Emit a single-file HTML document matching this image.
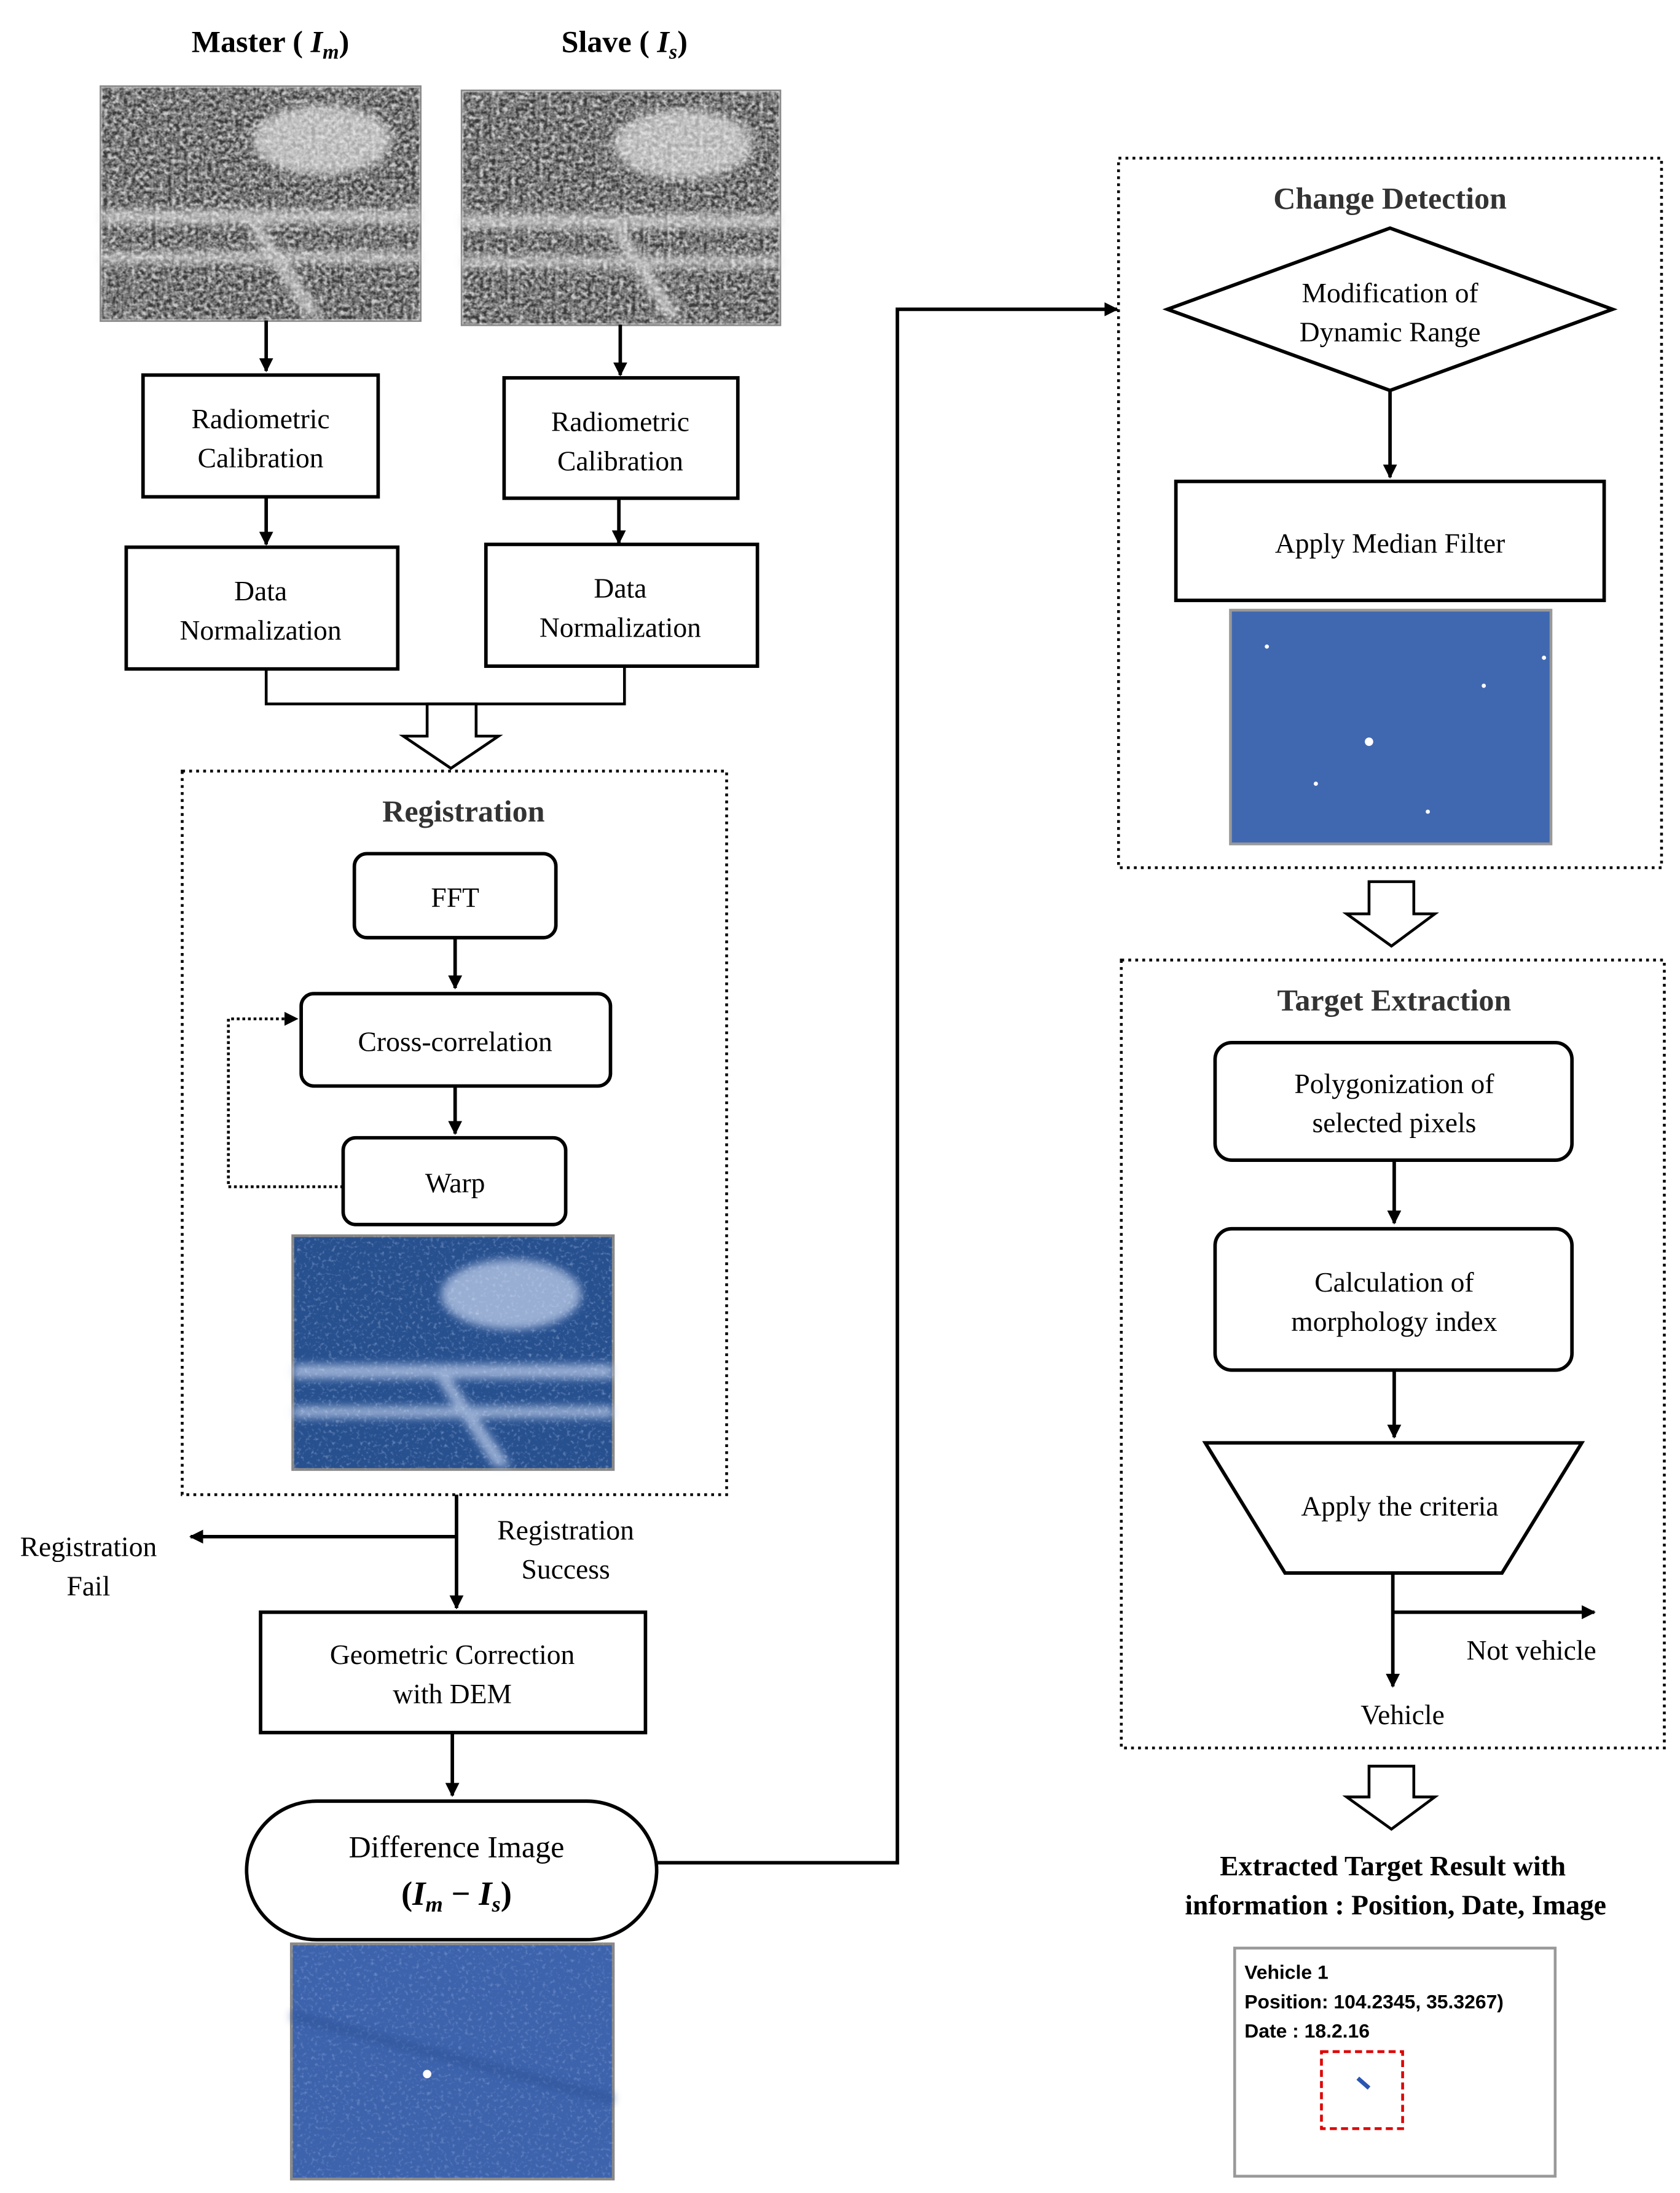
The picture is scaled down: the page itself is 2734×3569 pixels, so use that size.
<!DOCTYPE html>
<html><head><meta charset="utf-8">
<style>html,body{margin:0;padding:0;background:#fff}svg{display:block}</style>
</head><body>
<svg xmlns="http://www.w3.org/2000/svg" width="2734" height="3569" viewBox="0 0 1200 1567" font-family="'Liberation Serif', serif" font-size="20" fill="#000">
<defs>
<filter id="gray" x="0" y="0" width="100%" height="100%">
<feTurbulence type="fractalNoise" baseFrequency="0.35" numOctaves="2" seed="3"/>
<feColorMatrix type="matrix" values="0 0 0 0 0.85  0 0 0 0 0.85  0 0 0 0 0.85  1.4 1.4 0 0 -0.95"/>
<feComposite in2="SourceGraphic" operator="in"/>
</filter>
<filter id="blue" x="0" y="0" width="100%" height="100%">
<feTurbulence type="fractalNoise" baseFrequency="0.4" numOctaves="2" seed="7"/>
<feColorMatrix type="matrix" values="0 0 0 0 0.75  0 0 0 0 0.82  0 0 0 0 1  1.3 0 0 0 -0.7"/>
<feComposite in2="SourceGraphic" operator="in"/>
</filter>
<filter id="blur"><feGaussianBlur stdDeviation="3"/></filter>
<marker id="ah" markerWidth="10" markerHeight="10" refX="9" refY="5" orient="auto" markerUnits="userSpaceOnUse">
<path d="M0,0 L10,5 L0,10 z" fill="#000"/></marker>
</defs>

<text x="193" y="37" text-anchor="middle" font-weight="bold" font-size="22">Master ( <tspan font-style="italic">I</tspan><tspan font-style="italic" font-size="15" dy="5">m</tspan><tspan dy="-5">)</tspan></text>
<text x="446" y="37" text-anchor="middle" font-weight="bold" font-size="22">Slave ( <tspan font-style="italic">I</tspan><tspan font-style="italic" font-size="15" dy="5">s</tspan><tspan dy="-5">)</tspan></text>

<!-- Master/Slave images -->
<g>
<rect x="72" y="62" width="228" height="167" fill="#3a3a3a" stroke="#888" stroke-width="2"/>
<g filter="url(#blur)" fill="#d8d8d8" opacity="0.7">
<ellipse cx="230" cy="100" rx="50" ry="25"/>
<rect x="72" y="150" width="228" height="10"/>
<rect x="72" y="180" width="228" height="8"/>
<polygon points="170,150 180,150 230,225 218,225"/>
</g>
<rect x="72" y="62" width="228" height="167" fill="#3a3a3a" filter="url(#gray)" opacity="0.8"/>
</g>
<g>
<rect x="330" y="65" width="227" height="167" fill="#3a3a3a" stroke="#888" stroke-width="2"/>
<g filter="url(#blur)" fill="#d8d8d8" opacity="0.7">
<ellipse cx="488" cy="103" rx="50" ry="25"/>
<rect x="330" y="153" width="227" height="10"/>
<rect x="330" y="183" width="227" height="8"/>
<polygon points="428,153 438,153 488,228 476,228"/>
</g>
<rect x="330" y="65" width="227" height="167" fill="#3a3a3a" filter="url(#gray)" opacity="0.8"/>
</g>

<g stroke="#000" stroke-width="2.5" fill="none">
<line x1="190" y1="229" x2="190" y2="265" marker-end="url(#ah)"/>
<line x1="443" y1="232" x2="443" y2="268" marker-end="url(#ah)"/>
<rect x="102" y="268" width="168" height="87"/>
<rect x="360" y="270" width="167" height="86"/>
<line x1="190" y1="355" x2="190" y2="389" marker-end="url(#ah)"/>
<line x1="442" y1="356" x2="442" y2="388" marker-end="url(#ah)"/>
<rect x="90" y="391" width="194" height="87"/>
<rect x="347" y="389" width="194" height="87"/>
<polyline points="190,478 190,503 446,503 446,476" stroke-width="2"/>
<path d="M305,503 L340,503 L340,526 L356,526 L322,549 L288,526 L305,526 z" stroke-width="2"/>
</g>
<text x="186" y="306" text-anchor="middle">Radiometric</text>
<text x="186" y="334" text-anchor="middle">Calibration</text>
<text x="443" y="308" text-anchor="middle">Radiometric</text>
<text x="443" y="336" text-anchor="middle">Calibration</text>
<text x="186" y="429" text-anchor="middle">Data</text>
<text x="186" y="457" text-anchor="middle">Normalization</text>
<text x="443" y="427" text-anchor="middle">Data</text>
<text x="443" y="455" text-anchor="middle">Normalization</text>

<rect x="130" y="551" width="389" height="517" fill="none" stroke="#000" stroke-width="2" stroke-dasharray="2,3"/>
<text x="331" y="587" text-anchor="middle" font-weight="bold" font-size="22" fill="#333">Registration</text>
<g stroke="#000" stroke-width="2.5" fill="none">
<rect x="253" y="610" width="144" height="60" rx="9"/>
<line x1="325" y1="670" x2="325" y2="706" marker-end="url(#ah)"/>
<rect x="215" y="710" width="221" height="66" rx="9"/>
<line x1="325" y1="776" x2="325" y2="810" marker-end="url(#ah)"/>
<rect x="245" y="813" width="159" height="62" rx="9"/>
<polyline points="245,848 163,848 163,728 212,728" stroke-width="2" stroke-dasharray="2,2" marker-end="url(#ah)"/>
</g>
<text x="325" y="648" text-anchor="middle">FFT</text>
<text x="325" y="751" text-anchor="middle">Cross-correlation</text>
<text x="325" y="852" text-anchor="middle">Warp</text>
<g>
<rect x="209" y="883" width="229" height="167" fill="#27508f" stroke="#888" stroke-width="2"/>
<g filter="url(#blur)" fill="#c8d6f0" opacity="0.7">
<ellipse cx="365" cy="925" rx="50" ry="25"/>
<rect x="209" y="975" width="229" height="10"/>
<rect x="209" y="1005" width="229" height="8"/>
<polygon points="305,975 315,975 365,1048 353,1048"/>
</g>
<rect x="209" y="883" width="229" height="167" fill="#27508f" filter="url(#blue)" opacity="0.8"/>
</g>

<g stroke="#000" stroke-width="2.5" fill="none">
<line x1="326" y1="1068" x2="326" y2="1149" marker-end="url(#ah)"/>
<line x1="326" y1="1098" x2="136" y2="1098" marker-end="url(#ah)"/>
<rect x="186" y="1152" width="275" height="86"/>
<line x1="323" y1="1238" x2="323" y2="1283" marker-end="url(#ah)"/>
<rect x="176" y="1287" width="293" height="99" rx="50"/>
<polyline points="469,1331 641,1331 641,221 798,221" marker-end="url(#ah)"/>
</g>
<text x="63" y="1112" text-anchor="middle">Registration</text>
<text x="63" y="1140" text-anchor="middle">Fail</text>
<text x="404" y="1100" text-anchor="middle">Registration</text>
<text x="404" y="1128" text-anchor="middle">Success</text>
<text x="323" y="1189" text-anchor="middle">Geometric Correction</text>
<text x="323" y="1217" text-anchor="middle">with DEM</text>
<text x="326" y="1327" text-anchor="middle" font-size="22">Difference Image</text>
<text x="326" y="1361" text-anchor="middle" font-size="24" font-weight="bold">(<tspan font-style="italic">I</tspan><tspan font-style="italic" font-size="16" dy="5">m</tspan><tspan dy="-5"> − </tspan><tspan font-style="italic">I</tspan><tspan font-style="italic" font-size="16" dy="5">s</tspan><tspan dy="-5">)</tspan></text>
<rect x="208" y="1389" width="230" height="168" fill="#3d63ad" stroke="#888" stroke-width="2"/>
<rect x="208" y="1389" width="230" height="168" fill="#3d63ad" filter="url(#blue)" opacity="0.6"/>
<path d="M208,1440 Q320,1470 438,1500" stroke="#2c4f93" stroke-width="6" fill="none" opacity="0.6" filter="url(#blur)"/>
<circle cx="305" cy="1482" r="3" fill="#fff"/>

<rect x="799" y="113" width="388" height="507" fill="none" stroke="#000" stroke-width="2" stroke-dasharray="2,3"/>
<text x="993" y="149" text-anchor="middle" font-weight="bold" font-size="22" fill="#333">Change Detection</text>
<g stroke="#000" stroke-width="2.5" fill="none">
<polygon points="834,221 993,163 1152,221 993,279"/>
<line x1="993" y1="279" x2="993" y2="341" marker-end="url(#ah)"/>
<rect x="840" y="344" width="306" height="85"/>
<path d="M978,630 L1010,630 L1010,653 L1025,653 L994,676 L962,653 L978,653 z" stroke-width="2"/>
</g>
<text x="993" y="216" text-anchor="middle">Modification of</text>
<text x="993" y="244" text-anchor="middle">Dynamic Range</text>
<text x="993" y="395" text-anchor="middle">Apply  Median Filter</text>
<rect x="879" y="436" width="229" height="167" fill="#4068b0" stroke="#999" stroke-width="2"/>
<g fill="#fff"><circle cx="978" cy="530" r="3"/><circle cx="905" cy="462" r="1.5"/><circle cx="1060" cy="490" r="1.5"/><circle cx="1103" cy="470" r="1.5"/><circle cx="940" cy="560" r="1.5"/><circle cx="1020" cy="580" r="1.5"/></g>

<rect x="801" y="686" width="388" height="563" fill="none" stroke="#000" stroke-width="2" stroke-dasharray="2,3"/>
<text x="996" y="722" text-anchor="middle" font-weight="bold" font-size="22" fill="#333">Target  Extraction</text>
<g stroke="#000" stroke-width="2.5" fill="none">
<rect x="868" y="745" width="255" height="84" rx="12"/>
<line x1="996" y1="829" x2="996" y2="874" marker-end="url(#ah)"/>
<rect x="868" y="878" width="255" height="101" rx="12"/>
<line x1="996" y1="979" x2="996" y2="1027" marker-end="url(#ah)"/>
<polygon points="861,1031 1130,1031 1073,1124 918,1124"/>
<line x1="995" y1="1124" x2="995" y2="1205" marker-end="url(#ah)"/>
<line x1="995" y1="1152" x2="1139" y2="1152" marker-end="url(#ah)"/>
<path d="M978,1262 L1010,1262 L1010,1284 L1025,1284 L994,1307 L962,1284 L978,1284 z" stroke-width="2"/>
</g>
<text x="996" y="781" text-anchor="middle">Polygonization of</text>
<text x="996" y="809" text-anchor="middle">selected pixels</text>
<text x="996" y="923" text-anchor="middle">Calculation of</text>
<text x="996" y="951" text-anchor="middle">morphology index</text>
<text x="1000" y="1083" text-anchor="middle">Apply the criteria</text>
<text x="1094" y="1186" text-anchor="middle">Not vehicle</text>
<text x="1002" y="1232" text-anchor="middle">Vehicle</text>

<text x="995" y="1340" text-anchor="middle" font-weight="bold">Extracted Target Result with</text>
<text x="997" y="1368" text-anchor="middle" font-weight="bold">information : Position, Date, Image</text>
<rect x="882" y="1392" width="229" height="163" fill="#fff" stroke="#999" stroke-width="2"/>
<g font-family="'Liberation Sans Narrow','Liberation Sans',sans-serif" font-size="14" font-weight="bold">
<text x="889" y="1414">Vehicle 1</text>
<text x="889" y="1435">Position: 104.2345, 35.3267)</text>
<text x="889" y="1456">Date : 18.2.16</text>
</g>
<rect x="944" y="1466" width="58" height="55" fill="none" stroke="#d00" stroke-width="2" stroke-dasharray="5,3"/>
<line x1="970" y1="1485" x2="978" y2="1492" stroke="#2a55b0" stroke-width="3"/>
</svg>
</body></html>
